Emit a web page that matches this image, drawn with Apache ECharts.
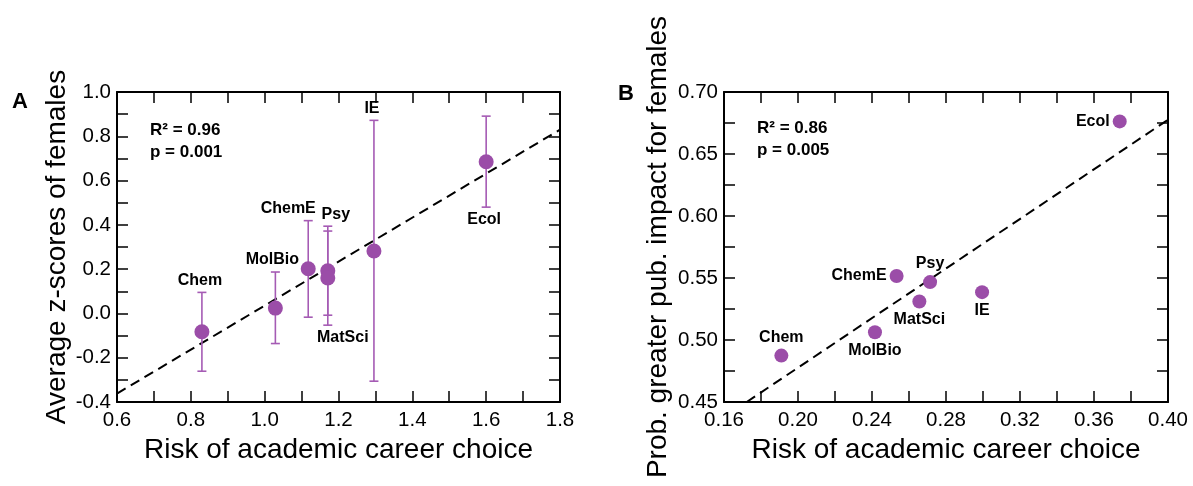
<!DOCTYPE html>
<html><head><meta charset="utf-8">
<script src="https://cdn.jsdelivr.net/npm/echarts@6/dist/echarts.min.js"></script>
<style>html,body{margin:0;padding:0;background:#fff}#c{width:1193px;height:486px}</style>
</head><body><div id="c"></div>
<script>
// ---------- data ----------
const fields = ['Chem', 'MolBio', 'ChemE', 'Psy', 'MatSci', 'IE', 'Ecol'];
// Panel A
const riskA = [0.830, 1.029, 1.118, 1.171, 1.171, 1.296, 1.600];
const zMean = [-0.083, 0.024, 0.202, 0.193, 0.160, 0.282, 0.685];
const zHigh = [0.095, 0.187, 0.419, 0.394, 0.372, 0.872, 0.891];
const zLow  = [-0.261, -0.136, -0.017, -0.008, -0.053, -0.306, 0.480];
const fitA  = [[0.6, -0.362], [1.8, 0.830]];
const statsA = ['R\u00B2 = 0.96', 'p = 0.001'];
// Panel B
const riskB = [0.191, 0.2416, 0.2533, 0.2714, 0.2656, 0.2995, 0.3739];
const probB = [0.4874, 0.5063, 0.5516, 0.5467, 0.5311, 0.5386, 0.6763];
const fitB  = [[0.1723, 0.45], [0.40, 0.6776]];
const statsB = ['R\u00B2 = 0.86', 'p = 0.005'];
const xTitle = 'Risk of academic career choice';
const yTitleA = 'Average z-scores of females';
const yTitleB = 'Prob. greater pub. impact for females';

// ---------- layout / style ----------
const labelSideA = ['top', 'top', 'top', 'top', 'bottom', 'top', 'bottom'];
const labelDxA   = [-2, -3, -20, 8, 15, -2, -2];
const labelSideB = ['top', 'bottom', 'left', 'top', 'bottom', 'bottom', 'left'];
const FONT = '"Liberation Sans", Arial, Helvetica, sans-serif';
const markerColor = '#9b4da8';
const errColor = '#a55bb4';

const chart = echarts.init(document.getElementById('c'), null, {renderer: 'canvas'});

function axisCommon(extra) {
  return Object.assign({
    type: 'value',
    axisLine: {show: true, onZero: false, lineStyle: {color: '#000', width: 2}},
    axisTick: {show: true, inside: true, length: 11, lineStyle: {color: '#000', width: 1.5}},
    minorTick: {show: true, splitNumber: 2, length: 11, lineStyle: {color: '#000', width: 1.5}},
    splitLine: {show: false},
    axisLabel: {show: true, color: '#000', fontFamily: FONT, fontSize: 20},
    nameTextStyle: {color: '#000', fontFamily: FONT, fontSize: 28},
    nameLocation: 'middle'
  }, extra);
}
function mirror(a, pos) {
  const m = JSON.parse(JSON.stringify(a));
  m.position = pos; m.axisLabel = {show: false}; m.name = '';
  return m;
}

const xA = axisCommon({gridIndex: 0, min: 0.6, max: 1.8, interval: 0.2, name: xTitle, nameGap: 30,
  axisLabel: {color: '#000', fontFamily: FONT, fontSize: 20.5, margin: 8, formatter: v => v.toFixed(1)}});
const yA = axisCommon({gridIndex: 0, min: -0.4, max: 1.0, interval: 0.2, name: yTitleA, nameGap: 45,
  axisLabel: {color: '#000', fontFamily: FONT, fontSize: 20.5, margin: 6, formatter: v => v.toFixed(1)}});
const xB = axisCommon({gridIndex: 1, min: 0.16, max: 0.40, interval: 0.04, name: xTitle, nameGap: 30,
  axisLabel: {color: '#000', fontFamily: FONT, fontSize: 20.5, margin: 8, formatter: v => v.toFixed(2)}});
const yB = axisCommon({gridIndex: 1, min: 0.45, max: 0.70, interval: 0.05, name: yTitleB, nameGap: 52,
  axisLabel: {color: '#000', fontFamily: FONT, fontSize: 20.5, margin: 6, formatter: v => v.toFixed(2)}});

function errRender(params, api) {
  const x = api.value(0), lo = api.value(1), hi = api.value(2);
  const pHi = api.coord([x, hi]), pLo = api.coord([x, lo]);
  const cap = 4.5, i = params.dataIndex;
  const st = {stroke: errColor, lineWidth: 1.6};
  const top = labelSideA[i] === 'top';
  return {type: 'group', children: [
    {type: 'line', shape: {x1: pHi[0], y1: pHi[1], x2: pLo[0], y2: pLo[1]}, style: st},
    {type: 'line', shape: {x1: pHi[0] - cap, y1: pHi[1], x2: pHi[0] + cap, y2: pHi[1]}, style: st},
    {type: 'line', shape: {x1: pLo[0] - cap, y1: pLo[1], x2: pLo[0] + cap, y2: pLo[1]}, style: st},
    {type: 'text', style: {text: fields[i], x: pHi[0] + labelDxA[i], y: top ? pHi[1] - 4 : pLo[1] + 4,
      align: 'center', verticalAlign: top ? 'bottom' : 'top', font: 'bold 16px ' + FONT, fill: '#000'}}
  ]};
}

const option = {
  backgroundColor: '#fff',
  animation: false,
  grid: [
    {left: 117, top: 92, width: 443, height: 310, show: false},
    {left: 724, top: 92, width: 444, height: 310, show: false}
  ],
  xAxis: [xA, mirror(xA, 'top'), xB, mirror(xB, 'top')],
  yAxis: [yA, mirror(yA, 'right'), yB, mirror(yB, 'right')],
  graphic: [
    {type: 'text', left: 12, top: 91, style: {text: 'A', font: 'bold 22px ' + FONT, fill: '#000'}},
    {type: 'text', left: 618, top: 83, style: {text: 'B', font: 'bold 22px ' + FONT, fill: '#000'}},
    {type: 'text', left: 150, top: 119, style: {text: statsA.join('\n'), font: 'bold 17px ' + FONT, lineHeight: 22, fill: '#000'}},
    {type: 'text', left: 757, top: 117, style: {text: statsB.join('\n'), font: 'bold 17px ' + FONT, lineHeight: 22, fill: '#000'}}
  ],
  series: [
    {type: 'line', xAxisIndex: 0, yAxisIndex: 0, data: fitA, symbol: 'none', z: 1,
      lineStyle: {color: '#000', width: 2, type: [10, 6]}},
    {type: 'custom', xAxisIndex: 0, yAxisIndex: 0, renderItem: errRender, z: 2,
      data: riskA.map((x, i) => [x, zLow[i], zHigh[i]]), encode: {x: 0, y: [1, 2]}},
    {type: 'scatter', xAxisIndex: 0, yAxisIndex: 0, symbolSize: 15, z: 3,
      itemStyle: {color: markerColor, opacity: 1},
      data: riskA.map((x, i) => [x, zMean[i]])},
    {type: 'line', xAxisIndex: 2, yAxisIndex: 2, data: fitB, symbol: 'none', z: 1,
      lineStyle: {color: '#000', width: 2, type: [10, 6]}},
    {type: 'scatter', xAxisIndex: 2, yAxisIndex: 2, symbolSize: 14, z: 3,
      itemStyle: {color: markerColor, opacity: 1},
      label: {show: true, distance: 3, color: '#000', fontFamily: FONT, fontWeight: 'bold', fontSize: 16,
        formatter: p => fields[p.dataIndex]},
      data: riskB.map((x, i) => ({value: [x, probB[i]], label: {position: labelSideB[i]}}))}
  ]
};
chart.setOption(option);
</script>
</body></html>
